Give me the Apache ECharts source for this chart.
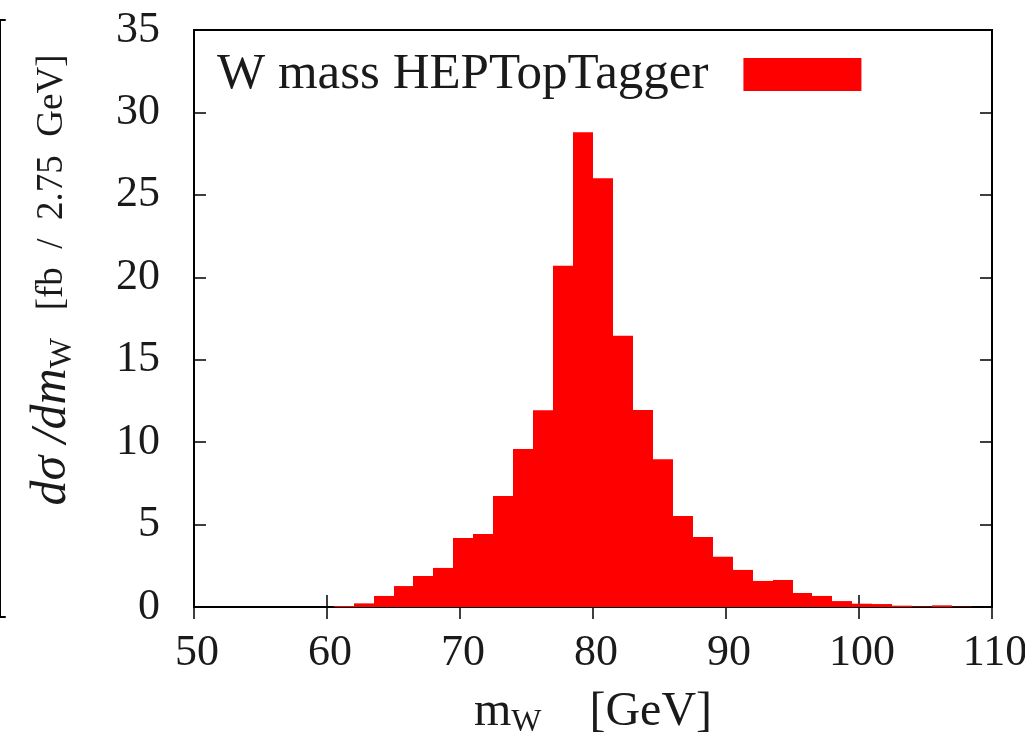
<!DOCTYPE html>
<html>
<head>
<meta charset="utf-8">
<script src="https://cdn.jsdelivr.net/npm/echarts@6/dist/echarts.min.js"></script>
<style>
  html, body { margin: 0; padding: 0; background: #fff; }
  #main { width: 1025px; height: 739px; }
</style>
</head>
<body>
<div id="main"></div>
<script>
// W mass histogram, bins 1.5 GeV wide (lower edges)
var binWidth = 1.5;
var binLo = [60.5, 62, 63.5, 65, 66.5, 68, 69.5, 71, 72.5, 74, 75.5, 77, 78.5, 80, 81.5,
             83, 84.5, 86, 87.5, 89, 90.5, 92, 93.5, 95, 96.5, 98, 99.5, 101, 102.5, 104, 105.5, 107];
var xsec = [0.06, 0.22, 0.67, 1.27, 1.88, 2.37, 4.18, 4.43, 6.73, 9.58, 11.94, 20.7, 28.8, 26.0, 16.45,
            11.95, 8.96, 5.52, 4.25, 3.05, 2.25, 1.58, 1.64, 0.85, 0.67, 0.36, 0.2, 0.18, 0.08, 0.03, 0.1, 0.02];
var seriesName = 'W mass HEPTopTagger';

var serif = '"Liberation Serif", "DejaVu Serif", serif';
var ink = '#1a1a1a';

var histData = binLo.map(function (lo, i) {
    return [lo, lo + binWidth, xsec[i]];
});

var myChart = echarts.init(document.getElementById('main'));

var tick = { show: true, inside: true, length: 12, lineStyle: { color: '#000', width: 1.5 } };
var line = { show: true, lineStyle: { color: '#000', width: 2 } };

var option = {
    animation: false,
    grid: [{
        left: 194, right: 33, top: 30, bottom: 132,
        outerBoundsMode: 'none',
        show: true, borderColor: '#000', borderWidth: 2
    }, {
        // right edge of the neighbouring panel
        left: 0, width: 5, top: 20, bottom: 122,
        outerBoundsMode: 'none'
    }],
    legend: {
        data: [{ name: seriesName, icon: 'rect' }],
        left: 212,
        top: 44,
        align: 'right',
        itemWidth: 118,
        itemHeight: 33,
        textStyle: { fontFamily: serif, fontSize: 51, color: ink, padding: [0, 30, 0, 0] }
    },
    xAxis: [{
        type: 'value', min: 50, max: 110, interval: 10, position: 'bottom',
        axisLine: line, axisTick: tick, splitLine: { show: false },
        axisLabel: { fontFamily: serif, fontSize: 44, color: ink, margin: 24, padding: [0, 0, 0, 6] },
        name: '{m|m}{sub|W}{g|    [GeV]}',
        nameLocation: 'middle',
        nameGap: 78,
        nameTextStyle: {
            rich: {
                m: { fontFamily: serif, fontSize: 48, color: ink, lineHeight: 54 },
                sub: { fontFamily: serif, fontSize: 32, color: ink, lineHeight: 20, verticalAlign: 'bottom' },
                g: { fontFamily: serif, fontSize: 48, color: ink, lineHeight: 54 }
            }
        }
    }, {
        type: 'value', min: 50, max: 110, interval: 10, position: 'top',
        axisLine: line, axisTick: tick, axisLabel: { show: false }, splitLine: { show: false }
    }, {
        gridIndex: 1, type: 'value', min: 0, max: 1, position: 'bottom',
        axisLine: line, axisTick: { show: false }, axisLabel: { show: false }, splitLine: { show: false }
    }, {
        gridIndex: 1, type: 'value', min: 0, max: 1, position: 'top',
        axisLine: line, axisTick: { show: false }, axisLabel: { show: false }, splitLine: { show: false }
    }],
    yAxis: [{
        type: 'value', min: 0, max: 35, interval: 5, position: 'left',
        axisLine: line, axisTick: tick, splitLine: { show: false },
        axisLabel: { fontFamily: serif, fontSize: 44, color: ink, margin: 34 }
    }, {
        type: 'value', min: 0, max: 35, interval: 5, position: 'right',
        axisLine: line, axisTick: tick, axisLabel: { show: false }, splitLine: { show: false }
    }, {
        gridIndex: 1, type: 'value', min: 0, max: 6, interval: 1, position: 'right',
        axisLine: line,
        axisTick: { show: true, inside: true, length: 6, lineStyle: { color: '#000', width: 1.5 } },
        axisLabel: { show: false }, splitLine: { show: false }
    }],
    graphic: [{
        type: 'text',
        x: 52,
        y: 280,
        rotation: Math.PI / 2,
        style: {
            text: '{it|dσ /dm}{sub|W}{br|   [fb  /  2.75  GeV]}',
            align: 'center',
            verticalAlign: 'middle',
            rich: {
                it: { fontFamily: serif, fontStyle: 'italic', fontSize: 50, fill: ink, lineHeight: 54 },
                sub: { fontFamily: serif, fontSize: 32, fill: ink, lineHeight: 20, verticalAlign: 'bottom' },
                br: { fontFamily: serif, fontSize: 37, fill: ink, lineHeight: 54 }
            }
        }
    }],
    series: [{
        name: seriesName,
        type: 'custom',
        xAxisIndex: 0,
        yAxisIndex: 0,
        itemStyle: { color: '#ff0000' },
        encode: { x: [0, 1], y: 2 },
        data: histData,
        renderItem: function (params, api) {
            var top = api.coord([api.value(0), api.value(2)]);
            var base = api.coord([api.value(1), 0]);
            var x0 = Math.round(top[0]), x1 = Math.round(base[0]);
            return {
                type: 'rect',
                shape: { x: x0, y: top[1], width: x1 - x0, height: base[1] - top[1] },
                style: { fill: '#ff0000' }
            };
        }
    }]
};

myChart.setOption(option);
</script>
</body>
</html>
